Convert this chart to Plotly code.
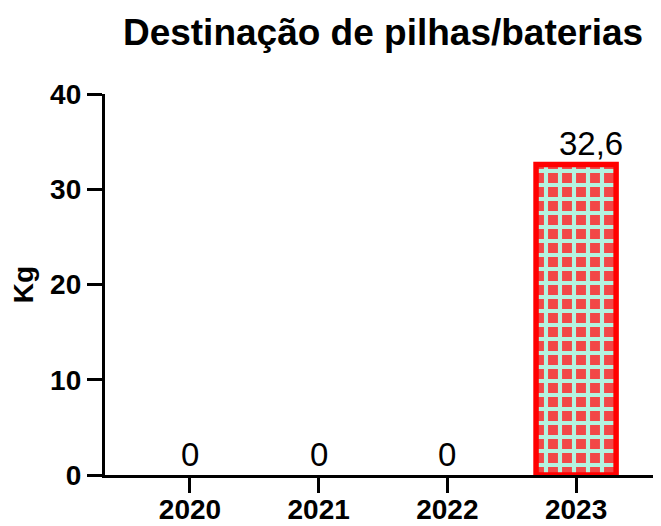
import plotly.graph_objects as go

years = ["2020", "2021", "2022", "2023"]
kg = [0, 0, 0, 32.6]
labels = ["0", "0", "0", "32,6"]

FONT = "Arial, Liberation Sans, sans-serif"

fig = go.Figure()
fig.add_trace(go.Bar(
    x=years, y=kg, width=0.622,
    marker=dict(
        color="#F24747",
        line=dict(color="#FF0000", width=[5.5 if v > 0 else 0 for v in kg]),
        pattern=dict(shape="+", fgcolor="#B3F3DF", bgcolor="#F24747",
                     size=14, solidity=0.5, fillmode="replace"),
    ),
    hoverinfo="skip",
))

for i, (v, t) in enumerate(zip(kg, labels)):
    fig.add_annotation(xref="x", yref="y", x=i, y=v, text=t, showarrow=False,
                       yanchor="bottom", yshift=0, xshift=15 if v > 0 else 0,
                       font=dict(family=FONT, size=33, color="black"))

# page body adds an 8px offset; figure is sized to fill the rest of the window
fig.update_layout(
    width=653, height=518,
    margin=dict(l=97, r=1, t=86, b=51, autoexpand=False),
    paper_bgcolor="white", plot_bgcolor="white",
    showlegend=False,
    title=dict(text="<b>Destinação de pilhas/baterias</b>", x=0.501, xref="paper",
               xanchor="center", y=1 - 11 / 518, yanchor="top",
               font=dict(family=FONT, size=37, color="black")),
)
fig.update_xaxes(
    type="category", range=[-0.66, 3.652], automargin=False,
    showline=True, linecolor="black", linewidth=3.3,
    ticks="outside", ticklen=15, tickwidth=3.3, tickcolor="black",
    ticklabelstandoff=-8,
    tickfont=dict(family=FONT, size=28, color="black"),
    tickprefix="<b>", ticksuffix="</b>",
    showgrid=False, zeroline=False,
)
fig.update_yaxes(
    range=[0, 40], dtick=10, tick0=0, automargin=False,
    showline=True, linecolor="black", linewidth=3.3,
    ticks="outside", ticklen=15, tickwidth=3.3, tickcolor="black",
    tickfont=dict(family=FONT, size=28, color="black"),
    tickprefix="<b>", ticksuffix="</b>",
    showgrid=False, zeroline=False,
    title=dict(text="<b>Kg</b>", standoff=14,
               font=dict(family=FONT, size=28, color="black")),
)

fig.write_html("out.html")
